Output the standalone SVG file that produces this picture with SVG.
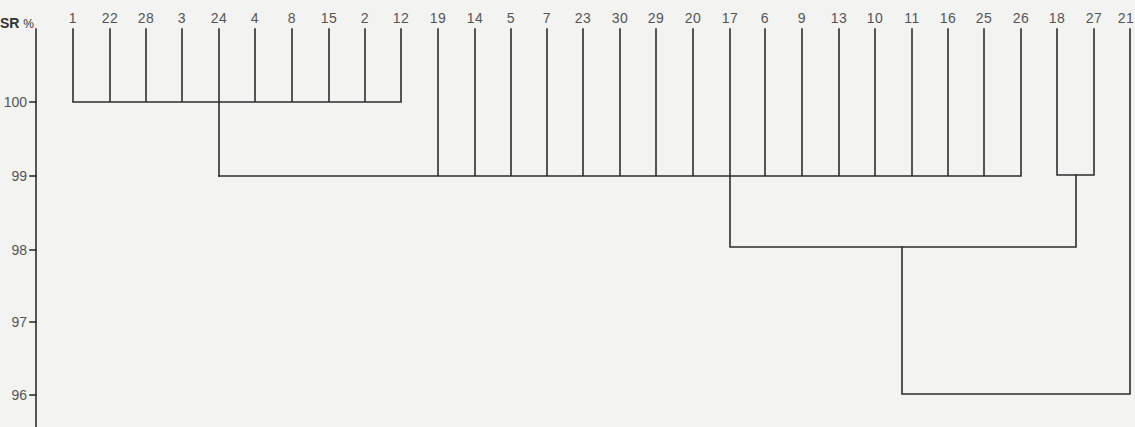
<svg xmlns="http://www.w3.org/2000/svg" width="1135" height="427" viewBox="0 0 1135 427">
<style>
.bg{fill:#f3f3f1}
.ln{stroke:#2e2e2e;stroke-width:1.6;fill:none;stroke-linecap:square}
.lbl{font-family:"Liberation Sans Narrow","Liberation Sans",sans-serif;font-size:14px;fill:#555;text-anchor:middle;letter-spacing:0.5px}
.tk{font-family:"Liberation Sans Narrow","Liberation Sans",sans-serif;font-size:14px;fill:#555;text-anchor:end}
.ttl{font-family:"Liberation Sans",sans-serif;font-weight:bold;fill:#333}
</style>
<rect class="bg" x="0" y="0" width="1135" height="427"/>
<g id="axis">
<line class="ln" x1="36" y1="29" x2="36" y2="427"/>
<line class="ln" x1="30" y1="102" x2="36" y2="102"/>
<line class="ln" x1="30" y1="176" x2="36" y2="176"/>
<line class="ln" x1="30" y1="250" x2="36" y2="250"/>
<line class="ln" x1="30" y1="322" x2="36" y2="322"/>
<line class="ln" x1="30" y1="395" x2="36" y2="395"/>
<text class="ttl" x="0" y="28" font-size="14">SR <tspan font-size="12" font-weight="normal">%</tspan></text>
<text class="tk" x="27" y="107">100</text>
<text class="tk" x="27" y="181">99</text>
<text class="tk" x="27" y="255">98</text>
<text class="tk" x="27" y="327">97</text>
<text class="tk" x="27" y="400">96</text>
</g>
<g id="n1"><text class="lbl" x="73" y="23">1</text></g>
<g id="n22"><text class="lbl" x="110" y="23">22</text></g>
<g id="n28"><text class="lbl" x="146" y="23">28</text></g>
<g id="n3"><text class="lbl" x="182" y="23">3</text></g>
<g id="n24"><text class="lbl" x="219" y="23">24</text></g>
<g id="n4"><text class="lbl" x="255" y="23">4</text></g>
<g id="n8"><text class="lbl" x="292" y="23">8</text></g>
<g id="n15"><text class="lbl" x="329" y="23">15</text></g>
<g id="n2"><text class="lbl" x="365" y="23">2</text></g>
<g id="n12"><text class="lbl" x="401" y="23">12</text></g>
<g id="n19"><text class="lbl" x="438" y="23">19</text></g>
<g id="n14"><text class="lbl" x="475" y="23">14</text></g>
<g id="n5"><text class="lbl" x="511" y="23">5</text></g>
<g id="n7"><text class="lbl" x="547" y="23">7</text></g>
<g id="n23"><text class="lbl" x="583" y="23">23</text></g>
<g id="n30"><text class="lbl" x="620" y="23">30</text></g>
<g id="n29"><text class="lbl" x="656" y="23">29</text></g>
<g id="n20"><text class="lbl" x="693" y="23">20</text></g>
<g id="n17"><text class="lbl" x="730" y="23">17</text></g>
<g id="n6"><text class="lbl" x="765" y="23">6</text></g>
<g id="n9"><text class="lbl" x="802" y="23">9</text></g>
<g id="n13"><text class="lbl" x="839" y="23">13</text></g>
<g id="n10"><text class="lbl" x="875" y="23">10</text></g>
<g id="n11"><text class="lbl" x="912" y="23">11</text></g>
<g id="n16"><text class="lbl" x="948" y="23">16</text></g>
<g id="n25"><text class="lbl" x="984" y="23">25</text></g>
<g id="n26"><text class="lbl" x="1021" y="23">26</text></g>
<g id="n18"><text class="lbl" x="1057" y="23">18</text></g>
<g id="n27"><text class="lbl" x="1094" y="23">27</text></g>
<g id="n21"><text class="lbl" x="1126" y="23">21</text></g>
<g id="connectors">
<path class="ln" d="M73 29V102 M110 29V102 M146 29V102 M182 29V102 M255 29V102 M292 29V102 M329 29V102 M365 29V102 M401 29V102 M73 102H401"/>
<path class="ln" d="M219 29V176"/>
<path class="ln" d="M438 29V176 M475 29V176 M511 29V176 M547 29V176 M583 29V176 M620 29V176 M656 29V176 M693 29V176 M730 29V176 M765 29V176 M802 29V176 M839 29V176 M875 29V176 M912 29V176 M948 29V176 M984 29V176 M1021 29V176 M219 176H1021"/>
<path class="ln" d="M1057 29V175 M1094 29V175 M1057 175H1094"/>
<path class="ln" d="M730 176V247 M1076 175V247 M730 247H1076"/>
<path class="ln" d="M902 247V394 M1130 29V394 M902 394H1130"/>
</g>
</svg>
